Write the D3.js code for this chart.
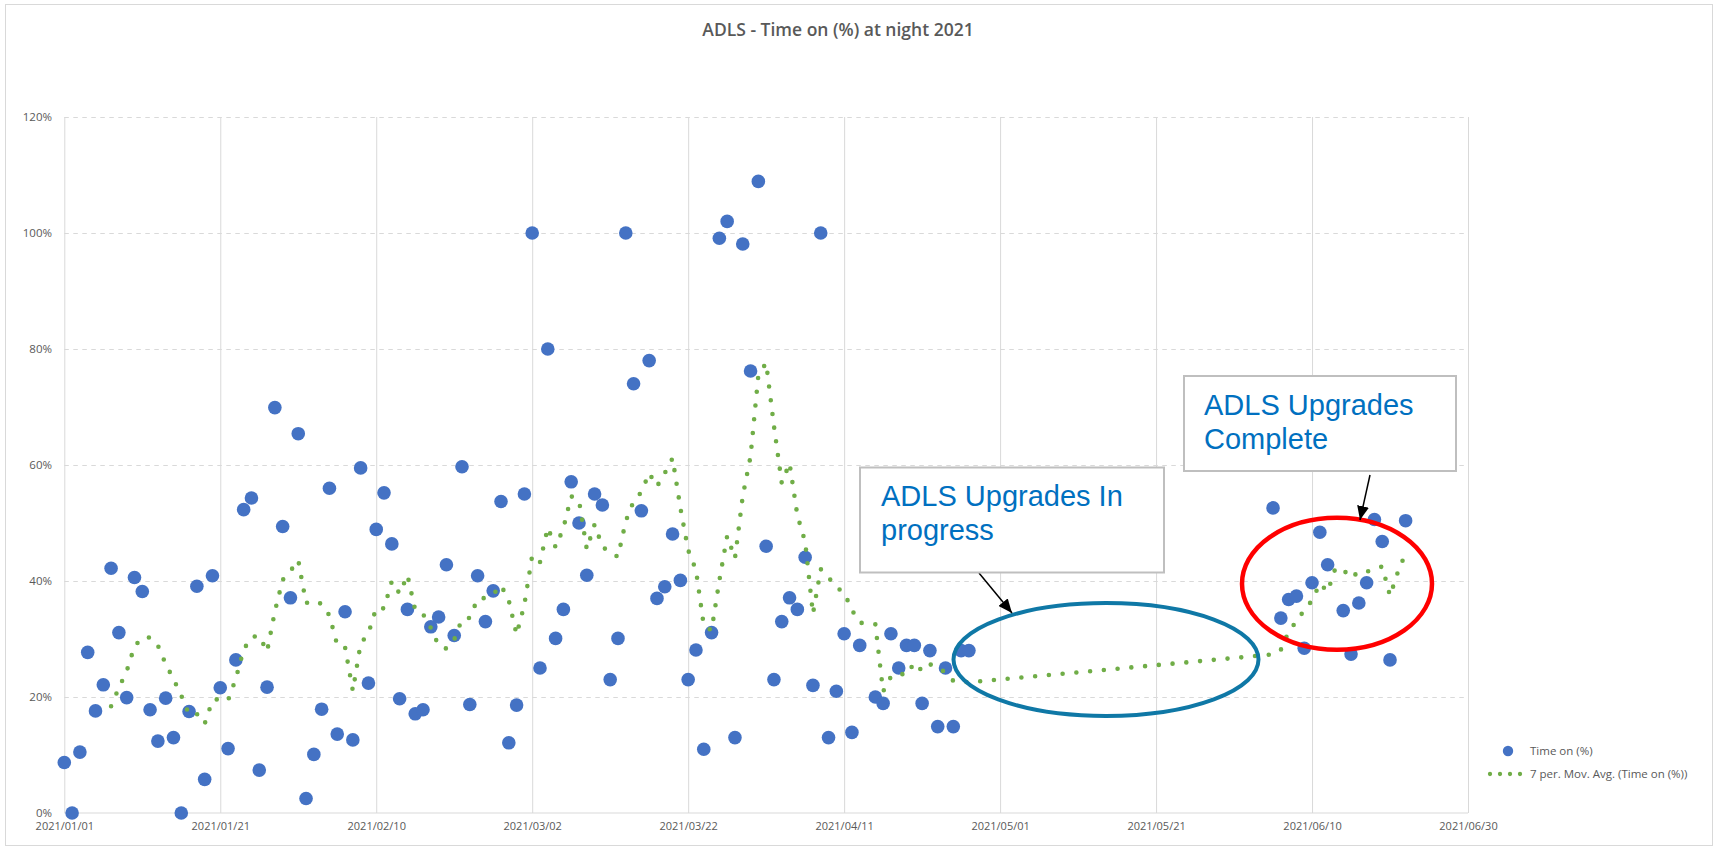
<!DOCTYPE html>
<html>
<head>
<meta charset="utf-8">
<script src="https://cdn.jsdelivr.net/npm/d3@7"></script>
<style>
  body { margin: 0; background: #fff; }
</style>
</head>
<body>
<svg id="chart" width="1715" height="847" font-family="Open Sans, sans-serif"></svg>
<script>
// daily readings, first run starts 2021/01/01, null = no reading that night
var startWinter = "2021/01/01";
var timeOnWinter = [
  8.7, 0, 10.5, 27.7, 17.6, 22.1, 42.2, 31.1, 19.9, 40.6,
  38.2, 17.8, 12.4, 19.8, 13.0, 0, 17.5, 39.1, 5.8, 40.9,
  21.6, 11.1, 26.4, 52.3, 54.3, 7.4, 21.7, 69.9, 49.4, 37.1,
  65.4, 2.5, 10.1, 17.9, 56.0, 13.6, 34.7, 12.6, 59.5, 22.4,
  48.9, 55.2, 46.4, 19.7, 35.1, 17.1, 17.8, 32.1, 33.8, 42.8,
  30.6, 59.7, 18.7, 40.9, 33.0, 38.3, 53.7, 12.1, 18.6, 55.0,
  100, 25.0, 80.0, 30.1, 35.1, 57.1, 50.0, 41.0, 55.0, 53.1,
  23.0, 30.1, 100, 74.0, 52.1, 78.0, 37.0, 39.0, 48.1, 40.1,
  23.0, 28.1, 11.0, 31.1, 99.1, 102.0, 13.0, 98.1, 76.2, 108.9,
  46.0, 23.0, 33.0, 37.1, 35.1, 44.1, 22.0, 100, 13.0, 21.0,
  30.9, 13.9, 28.9, null, 20.0, 18.9, 30.9, 25.0, 28.9, 28.9,
  18.9, 28.0, 14.9, 25.0, 14.9, 28.0, 28.0
];
// second run, after the upgrades
// (06/13 and 06/21 sit behind the "Complete" callout, read back from the trendline)
var startJune = "2021/06/05";
var timeOnJune = [
  52.6, 33.6, 36.8, 37.4, 28.4, 39.7, 48.4, 42.8, 62.0, 34.9,
  27.4, 36.2, 39.7, 50.6, 46.8, 26.4, 63.5, 50.4
];

var xTickLabels = ["2021/01/01", "2021/01/21", "2021/02/10", "2021/03/02", "2021/03/22",
  "2021/04/11", "2021/05/01", "2021/05/21", "2021/06/10", "2021/06/30"];
var yTickValues = [0, 20, 40, 60, 80, 100, 120];
var MA_PERIOD = 7;

var parseDay = d3.utcParse("%Y/%m/%d");
var formatDay = d3.utcFormat("%Y/%m/%d");

function toPoints(start, values) {
  var first = parseDay(start);
  var out = [];
  values.forEach(function (v, i) {
    if (v !== null) {
      out.push({ date: d3.utcDay.offset(first, i), value: v });
    }
  });
  return out;
}

var points = toPoints(startWinter, timeOnWinter).concat(toPoints(startJune, timeOnJune));

// Excel style moving average: over consecutive points, not calendar days
var movAvg = [];
for (var i = MA_PERIOD - 1; i < points.length; i++) {
  var win = points.slice(i - MA_PERIOD + 1, i + 1);
  movAvg.push({ date: points[i].date, value: d3.mean(win, function (d) { return d.value; }) });
}

var svg = d3.select("#chart");
var plotLeft = 64.3, plotRight = 1468, plotTop = 117, plotBottom = 813;

var x = d3.scaleUtc()
  .domain([parseDay(xTickLabels[0]), parseDay(xTickLabels[xTickLabels.length - 1])])
  .range([plotLeft, plotRight]);
var y = d3.scaleLinear().domain([0, 120]).range([plotBottom, plotTop]);

var gridColor = "#d9d9d9", labelColor = "#595959";

// outer chart border
svg.append("rect")
  .attr("x", 5.5).attr("y", 4.5).attr("width", 1707).attr("height", 841)
  .attr("fill", "#fff").attr("stroke", gridColor).attr("stroke-width", 1);

svg.append("text")
  .attr("x", 838).attr("y", 36)
  .attr("text-anchor", "middle")
  .attr("font-size", 17.5).attr("font-weight", 600)
  .attr("fill", labelColor)
  .text("ADLS - Time on (%) at night 2021");

// horizontal dashed grid
var yGrid = svg.append("g")
  .attr("transform", "translate(" + plotLeft + ",0)")
  .call(d3.axisLeft(y).tickValues(yTickValues.slice(1)).tickSize(-(plotRight - plotLeft)).tickFormat(""));
yGrid.select(".domain").remove();
yGrid.selectAll("line").attr("stroke", gridColor).attr("stroke-dasharray", "4.5,4.5");

// vertical solid grid
var xDates = xTickLabels.map(parseDay);
var xGrid = svg.append("g")
  .attr("transform", "translate(0," + plotBottom + ")")
  .call(d3.axisBottom(x).tickValues(xDates).tickSize(-(plotBottom - plotTop)).tickFormat(""));
xGrid.select(".domain").remove();
xGrid.selectAll("line").attr("stroke", gridColor);

svg.append("line")
  .attr("x1", plotLeft).attr("x2", plotRight).attr("y1", plotBottom).attr("y2", plotBottom)
  .attr("stroke", gridColor);

// tick labels
var yAxis = svg.append("g")
  .attr("transform", "translate(52,0)")
  .call(d3.axisLeft(y).tickValues(yTickValues).tickSize(0).tickPadding(0)
    .tickFormat(function (d) { return d + "%"; }));
yAxis.select(".domain").remove();
yAxis.attr("font-family", "Open Sans").attr("font-size", 11.5);
yAxis.selectAll("text").attr("fill", labelColor);

var xAxis = svg.append("g")
  .attr("transform", "translate(0,822)")
  .call(d3.axisBottom(x).tickValues(xDates).tickSize(0).tickPadding(0).tickFormat(formatDay));
xAxis.select(".domain").remove();
xAxis.attr("font-family", "Open Sans").attr("font-size", 11);
xAxis.selectAll("text").attr("fill", labelColor);

// data points
svg.append("g").selectAll("circle")
  .data(points)
  .enter().append("circle")
  .attr("cx", function (d) { return x(d.date); })
  .attr("cy", function (d) { return y(d.value); })
  .attr("r", 6.8)
  .attr("fill", "#4472c4");

// moving average trendline
var line = d3.line()
  .x(function (d) { return x(d.date); })
  .y(function (d) { return y(d.value); });

svg.append("path")
  .datum(movAvg)
  .attr("d", line)
  .attr("fill", "none")
  .attr("stroke", "#70ad47")
  .attr("stroke-width", 4.6)
  .attr("stroke-linecap", "round")
  .attr("stroke-dasharray", "0,13.8");

// legend
svg.append("circle").attr("cx", 1508).attr("cy", 751).attr("r", 5.2).attr("fill", "#4472c4");
svg.append("line")
  .attr("x1", 1490).attr("x2", 1520.5).attr("y1", 774).attr("y2", 774)
  .attr("stroke", "#70ad47").attr("stroke-width", 4.3)
  .attr("stroke-linecap", "round").attr("stroke-dasharray", "0,10");
svg.append("text").attr("x", 1530).attr("y", 755).attr("font-size", 11.5).attr("fill", labelColor)
  .text("Time on (%)");
svg.append("text").attr("x", 1530).attr("y", 778).attr("font-size", 11.5).attr("fill", labelColor)
  .text("7 per. Mov. Avg. (Time on (%))");

// annotations
var notes = svg.append("g");

notes.append("ellipse")
  .attr("cx", 1106).attr("cy", 659.5).attr("rx", 152.5).attr("ry", 56.5)
  .attr("fill", "none").attr("stroke", "#0f78a6").attr("stroke-width", 4);
notes.append("ellipse")
  .attr("cx", 1337).attr("cy", 583.7).attr("rx", 95).attr("ry", 66)
  .attr("fill", "none").attr("stroke", "#ff0000").attr("stroke-width", 4.5);

svg.append("defs").append("marker")
  .attr("id", "head")
  .attr("markerUnits", "userSpaceOnUse")
  .attr("markerWidth", 16).attr("markerHeight", 12)
  .attr("refX", 14).attr("refY", 6)
  .attr("orient", "auto")
  .append("path").attr("d", "M0,0 L14,6 L0,12 Z").attr("fill", "#000");

var boxes = [
  { x: 860, y: 467.5, w: 304, h: 105, lines: ["ADLS Upgrades In", "progress"], tx: 881, ty: 506,
    arrow: [979, 573, 1012, 613] },
  { x: 1184, y: 376, w: 272, h: 95, lines: ["ADLS Upgrades", "Complete"], tx: 1204, ty: 414.5,
    arrow: [1370, 475, 1360, 520] }
];

boxes.forEach(function (b) {
  notes.append("line")
    .attr("x1", b.arrow[0]).attr("y1", b.arrow[1]).attr("x2", b.arrow[2]).attr("y2", b.arrow[3])
    .attr("stroke", "#000").attr("stroke-width", 1.5)
    .attr("marker-end", "url(#head)");
  notes.append("rect")
    .attr("x", b.x).attr("y", b.y).attr("width", b.w).attr("height", b.h)
    .attr("fill", "#fff").attr("stroke", "#bfbfbf").attr("stroke-width", 2);
  var t = notes.append("text")
    .attr("font-family", "Liberation Sans, Arial, sans-serif")
    .attr("font-size", 29).attr("fill", "#0070c0");
  b.lines.forEach(function (s, k) {
    t.append("tspan").attr("x", b.tx).attr("y", b.ty + k * 34).text(s);
  });
});
</script>
</body>
</html>
